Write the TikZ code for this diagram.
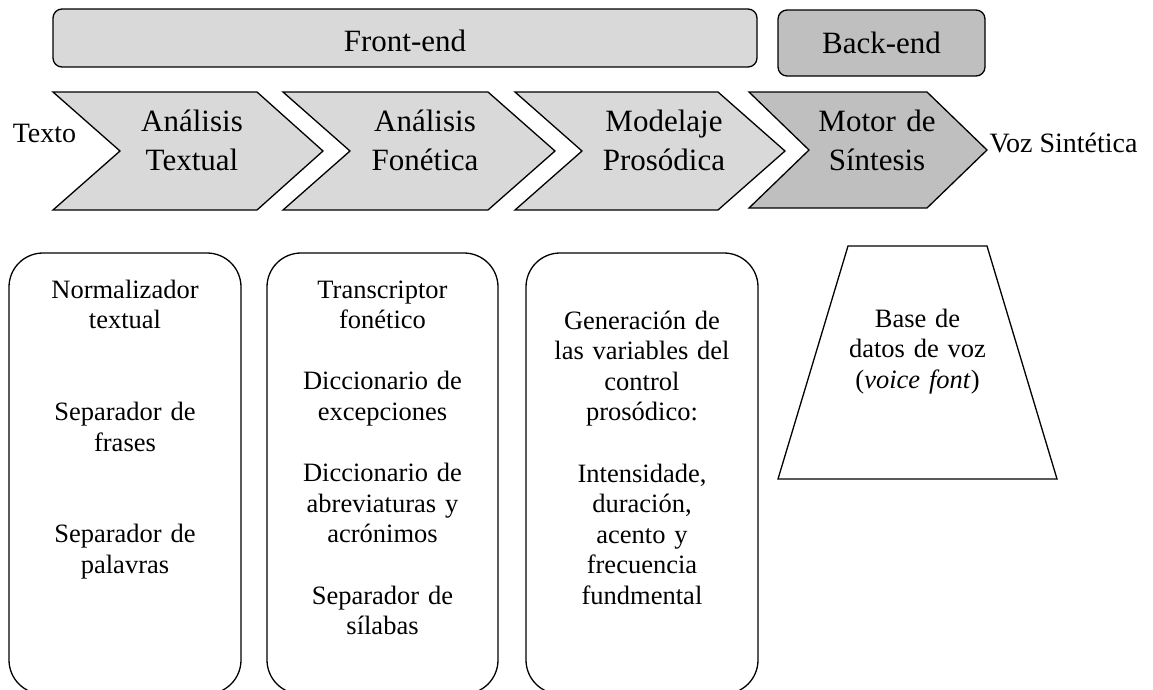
\documentclass[tikz,border=0pt]{standalone}
\usepackage{fontspec}
\setmainfont{Liberation Serif}
\definecolor{lightfill}{HTML}{D9D9D9}
\definecolor{darkfill}{HTML}{BFBFBF}
\begin{document}
\begin{tikzpicture}[x=1pt,y=-1pt,line width=1.3pt,line join=miter,
  barbox/.style={draw,rounded corners=9pt},
  chev/.style={draw},
  listbox/.style={draw,rounded corners=34pt},
  bigtext/.style={font=\fontsize{31}{37}\selectfont},
  chevtext/.style={font=\fontsize{31}{39}\selectfont,text width=170pt,align=center,anchor=base,inner sep=0pt},
  sidetext/.style={font=\fontsize{28}{32}\selectfont,anchor=base,inner sep=0pt},
  listtext/.style={font=\fontsize{26.5}{30.6}\selectfont,text width=225pt,align=center,anchor=base,inner sep=0pt}]
\useasboundingbox (0,0) rectangle (1153,689);
% top bars
\draw[barbox,fill=lightfill] (53,9) rectangle (757,67);
\node[bigtext,anchor=base,inner sep=0pt] (fe) at (405,51) {Front-end};
\draw[barbox,fill=darkfill] (778,10) rectangle (985,76);
\node[bigtext,anchor=base,inner sep=0pt] (be) at (881.5,53) {Back-end};
% chevrons
\draw[chev,fill=lightfill] (53,92) -- (257,92) -- (323,151) -- (257,210) -- (53,210) -- (120,151) -- cycle;
\draw[chev,fill=lightfill] (283,92) -- (488,92) -- (555,151) -- (488,210) -- (283,210) -- (350,151) -- cycle;
\draw[chev,fill=lightfill] (515,92) -- (718,92) -- (785,151) -- (718,210) -- (515,210) -- (582,151) -- cycle;
\draw[chev,fill=darkfill] (749,92) -- (927,92) -- (987,150) -- (927,208) -- (749,208) -- (809,150) -- cycle;
\node[chevtext] (c1) at (192,131) {Análisis\\Textual};
\node[chevtext] (c2) at (425,131) {Análisis\\Fonética};
\node[chevtext] (c3) at (664,131) {Modelaje\\Prosódica};
\node[chevtext] (c4) at (877,131) {Motor de\\Síntesis};
\node[sidetext] (in) at (44.5,142) {Texto};
\node[sidetext] (out) at (1063.5,152) {Voz Sintética};
% lower boxes
\draw[listbox] (9,253) rectangle (241,694);
\draw[listbox] (267,253) rectangle (498,694);
\draw[listbox] (526,253) rectangle (758,694);
\node[listtext] (l1) at (125,298) {Normalizador\\textual\\[61.2pt]Separador de\\frases\\[61.2pt]Separador de\\palavras};
\node[listtext] (l2) at (382.5,298) {Transcriptor\\fonético\\[30.6pt]Diccionario de\\excepciones\\[30.6pt]Diccionario de\\abreviaturas y\\acrónimos\\[30.6pt]Separador de\\sílabas};
\node[listtext] (l3) at (642,329) {Generación de\\las variables del\\control\\prosódico:\\[30.6pt]Intensidade,\\duración,\\acento y\\frecuencia\\fundmental};
% trapezoid
\draw (848,246) -- (987,246) -- (1057,479) -- (778,479) -- cycle;
\node[listtext] (db) at (917.5,327) {Base de\\datos de voz\\(\textit{voice font})};
\end{tikzpicture}
\end{document}
